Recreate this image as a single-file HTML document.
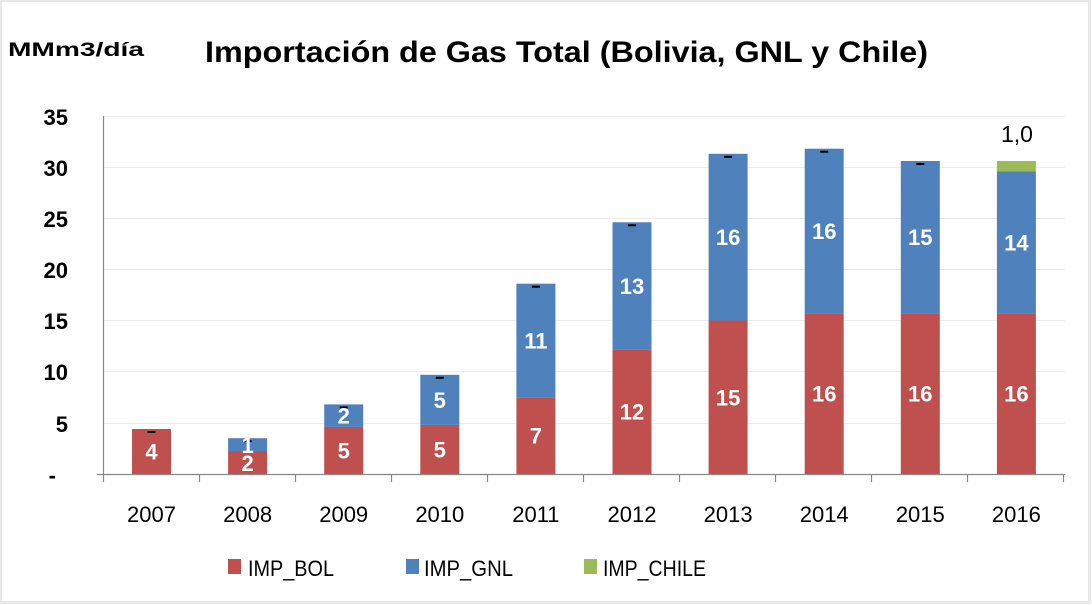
<!DOCTYPE html>
<html><head><meta charset="utf-8"><style>html,body{margin:0;padding:0;background:#fff}svg{display:block}</style></head><body>
<svg width="1092" height="605" viewBox="0 0 1092 605" xmlns="http://www.w3.org/2000/svg" font-family="Liberation Sans, sans-serif">
<rect x="0" y="0" width="1092" height="605" fill="#fff"/>
<rect x="0.5" y="0.5" width="1089" height="602" fill="none" stroke="#e8e8e8" stroke-width="3"/>
<text x="8" y="56" font-size="19" font-weight="bold" textLength="136" lengthAdjust="spacingAndGlyphs">MMm3/día</text>
<text x="205" y="62" font-size="30" font-weight="bold" textLength="723" lengthAdjust="spacingAndGlyphs">Importación de Gas Total (Bolivia, GNL y Chile)</text>
<g stroke="#ececec" stroke-width="1">
<line x1="103" x2="1065" y1="116.5" y2="116.5"/><line x1="103" x2="1065" y1="167.5" y2="167.5"/><line x1="103" x2="1065" y1="218.5" y2="218.5"/><line x1="103" x2="1065" y1="269.5" y2="269.5"/><line x1="103" x2="1065" y1="320.5" y2="320.5"/><line x1="103" x2="1065" y1="371.5" y2="371.5"/><line x1="103" x2="1065" y1="423.5" y2="423.5"/>
</g>
<g font-size="22" font-weight="bold" text-anchor="end">
<text x="68" y="125">35</text><text x="68" y="176">30</text><text x="68" y="227">25</text><text x="68" y="278">20</text><text x="68" y="329">15</text><text x="68" y="380">10</text><text x="68" y="432">5</text><text x="56" y="483">-</text>
</g>
<g fill="#c0504d">
<rect x="132" y="429" width="39" height="45"/>
<rect x="228.1" y="451.5" width="39" height="22.5"/>
<rect x="324.2" y="426.9" width="39" height="47.1"/>
<rect x="420.3" y="424.9" width="39" height="49.1"/>
<rect x="516.4" y="397.3" width="39" height="76.7"/>
<rect x="612.5" y="349.2" width="39" height="124.8"/>
<rect x="708.6" y="320.5" width="39" height="153.5"/>
<rect x="804.7" y="313.4" width="39" height="160.6"/>
<rect x="900.8" y="313.4" width="39" height="160.6"/>
<rect x="996.9" y="313.4" width="39" height="160.6"/>
</g>
<g fill="#4f81bd">
<rect x="228.1" y="438.2" width="39" height="13.3"/>
<rect x="324.2" y="404.4" width="39" height="22.5"/>
<rect x="420.3" y="374.8" width="39" height="50.1"/>
<rect x="516.4" y="283.7" width="39" height="113.6"/>
<rect x="612.5" y="222.3" width="39" height="126.9"/>
<rect x="708.6" y="153.8" width="39" height="166.7"/>
<rect x="804.7" y="148.7" width="39" height="164.7"/>
<rect x="900.8" y="161" width="39" height="152.4"/>
<rect x="996.9" y="171.2" width="39" height="142.2"/>
</g>
<rect x="996.9" y="161" width="39" height="10.2" fill="#9bbb59"/>
<g fill="#000">
<rect x="147.5" y="431" width="8" height="2"/>
<rect x="243.6" y="440.2" width="8" height="2"/>
<rect x="339.7" y="406.4" width="8" height="2"/>
<rect x="435.8" y="376.8" width="8" height="2"/>
<rect x="531.9" y="285.7" width="8" height="2"/>
<rect x="628" y="224.3" width="8" height="2"/>
<rect x="724.1" y="155.8" width="8" height="2"/>
<rect x="820.2" y="150.7" width="8" height="2"/>
<rect x="916.3" y="163" width="8" height="2"/>
</g>
<g font-size="22" font-weight="bold" fill="#fff" text-anchor="middle">
<text x="151.5" y="459.5">4</text>
<text x="247.6" y="470.8">2</text><text x="247.6" y="452.9">1</text>
<text x="343.7" y="458.5">5</text><text x="343.7" y="423.7">2</text>
<text x="439.8" y="457.5">5</text><text x="439.8" y="407.9">5</text>
<text x="535.9" y="443.7">7</text><text x="535.9" y="348.5">11</text>
<text x="632" y="419.6">12</text><text x="632" y="293.8">13</text>
<text x="728.1" y="405.3">15</text><text x="728.1" y="245.2">16</text>
<text x="824.2" y="401.7">16</text><text x="824.2" y="239.1">16</text>
<text x="920.3" y="401.7">16</text><text x="920.3" y="245.2">15</text>
<text x="1016.4" y="401.7">16</text><text x="1016.4" y="250.3">14</text>
</g>
<g stroke="#888" stroke-width="1.2">
<line x1="103.5" x2="103.5" y1="116" y2="482"/><line x1="97" x2="1065" y1="474.5" y2="474.5"/>
<line x1="199.5" x2="199.5" y1="474" y2="482"/><line x1="295.5" x2="295.5" y1="474" y2="482"/><line x1="391.5" x2="391.5" y1="474" y2="482"/><line x1="487.5" x2="487.5" y1="474" y2="482"/><line x1="583.5" x2="583.5" y1="474" y2="482"/><line x1="679.5" x2="679.5" y1="474" y2="482"/><line x1="775.5" x2="775.5" y1="474" y2="482"/><line x1="871.5" x2="871.5" y1="474" y2="482"/><line x1="967.5" x2="967.5" y1="474" y2="482"/><line x1="1063.5" x2="1063.5" y1="474" y2="482"/>
</g>
<g font-size="22" text-anchor="middle">
<text x="151.5" y="522">2007</text><text x="247.6" y="522">2008</text><text x="343.7" y="522">2009</text><text x="439.8" y="522">2010</text><text x="535.9" y="522">2011</text><text x="632" y="522">2012</text><text x="728.1" y="522">2013</text><text x="824.2" y="522">2014</text><text x="920.3" y="522">2015</text><text x="1016.4" y="522">2016</text>
</g>
<rect x="228" y="559" width="13" height="15" fill="#c0504d"/><text x="248" y="576" font-size="22" textLength="86" lengthAdjust="spacingAndGlyphs">IMP_BOL</text>
<rect x="406" y="559" width="13" height="15" fill="#4f81bd"/><text x="424" y="576" font-size="22" textLength="89" lengthAdjust="spacingAndGlyphs">IMP_GNL</text>
<rect x="584" y="559" width="13" height="15" fill="#9bbb59"/><text x="603" y="576" font-size="22" textLength="103" lengthAdjust="spacingAndGlyphs">IMP_CHILE</text>
<text x="1017" y="142" font-size="23" text-anchor="middle">1,0</text>
</svg>
</body></html>
